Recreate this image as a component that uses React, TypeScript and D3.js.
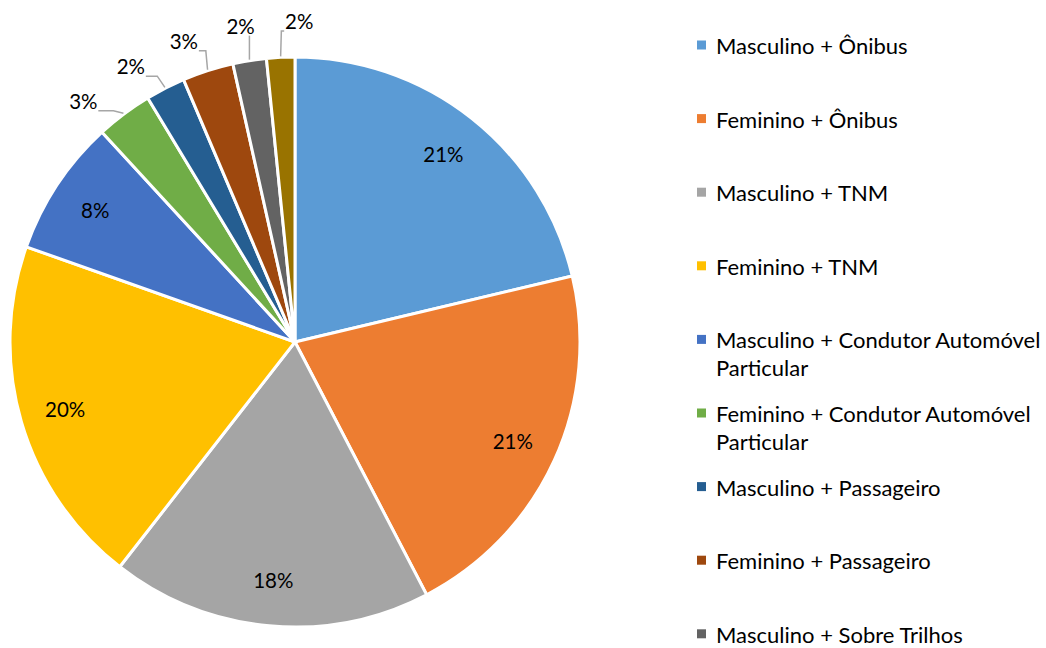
import React, { useEffect, useRef } from "react";
import * as d3 from "d3";

const categories = [
  "Masculino + Ônibus",
  "Feminino + Ônibus",
  "Masculino + TNM",
  "Feminino + TNM",
  "Masculino + Condutor Automóvel Particular",
  "Feminino + Condutor Automóvel Particular",
  "Masculino + Passageiro",
  "Feminino + Passageiro",
  "Masculino + Sobre Trilhos",
  "Feminino + Sobre Trilhos"
];
const values = [21.3, 21.1, 18.2, 19.9, 7.75, 3.2, 2.25, 2.9, 1.9, 1.6];
const colors = [
  "#5B9BD5",
  "#ED7D31",
  "#A5A5A5",
  "#FFC000",
  "#4472C4",
  "#70AD47",
  "#255E91",
  "#9E480E",
  "#636363",
  "#997300"
];

const size = {
  width: 1046,
  height: 648,
  cx: 295,
  cy: 342,
  radius: 285
};
const font = "Lato, 'Noto Sans', sans-serif";

type Slice = { label: string; value: number; color: string };

const wrap = (s: string, max: number) => {
  const lines: string[] = [];
  let cur = "";
  s.split(" ").forEach(w => {
    const next = cur ? cur + " " + w : w;
    if (next.length > max && cur) {
      lines.push(cur);
      cur = w;
    } else cur = next;
  });
  lines.push(cur);
  return lines;
};

const App = () => {
  const ref = useRef<SVGGElement>(null);

  useEffect(() => {
    if (!ref.current) return;
    ref.current.innerHTML = "";
    const data: Slice[] = categories.map((c, i) => ({
      label: c,
      value: values[i],
      color: colors[i]
    }));
    const total = d3.sum(values);
    const pct = d3.format(".0%");
    const R = size.radius;

    const pie = d3
      .pie<Slice>()
      .value(d => d.value)
      .sort(null);
    const arc = d3
      .arc<d3.PieArcDatum<Slice>>()
      .innerRadius(0)
      .outerRadius(R);
    const arcs = pie(data);

    const root = d3.select(ref.current);
    const pieG = root
      .append("g")
      .attr("transform", `translate(${size.cx},${size.cy})`);

    pieG
      .selectAll("path")
      .data(arcs)
      .enter()
      .append("path")
      .attr("d", arc)
      .attr("fill", d => d.data.color)
      .attr("stroke", "#fff")
      .attr("stroke-width", 3)
      .attr("stroke-linejoin", "round");

    const mid = (d: d3.PieArcDatum<Slice>) => (d.startAngle + d.endAngle) / 2;
    const polar = (a: number, r: number): [number, number] => [
      Math.sin(a) * r,
      -Math.cos(a) * r
    ];

    const inside = arcs.filter(d => d.value / total >= 0.05);
    const outside = arcs.filter(d => d.value / total < 0.05);

    pieG
      .selectAll("text.in")
      .data(inside)
      .enter()
      .append("text")
      .attr("class", "in")
      .attr("transform", d => `translate(${polar(mid(d), R * 0.84)})`)
      .attr("text-anchor", "middle")
      .attr("dominant-baseline", "central")
      .style("font-family", font)
      .style("font-size", "20.5px")
      .style("fill", "#000")
      .text(d => pct(d.value / total));

    // spread outside labels so they don't collide
    const angles = outside.map(mid);
    const minSep = (10.5 * Math.PI) / 180;
    for (let k = 0; k < 200; k++) {
      for (let i = 1; i < angles.length; i++) {
        const gap = angles[i] - angles[i - 1];
        if (gap < minSep) {
          const push = (minSep - gap) / 2;
          angles[i - 1] -= push;
          angles[i] += push;
        }
      }
    }

    const lr = R + 36;
    const bw = 30;
    const bh = 20;
    outside.forEach((d, i) => {
      const a = angles[i] - (1.5 * Math.PI) / 180;
      const [lx, ly] = polar(a, lr);
      const [ax, ay] = polar(mid(d), R + 1);
      const nx = Math.max(lx - bw / 2, Math.min(ax, lx + bw / 2));
      const ny = Math.max(ly - bh / 2, Math.min(ay, ly + bh / 2));
      const len = Math.hypot(nx - ax, ny - ay);
      if (len > 19.5) {
        const pts: [number, number][] =
          Math.abs(ny - ay) > Math.abs(nx - ax) * 1.5
            ? [[ax, ay], [ax + (nx - ax) * 0.2, ny], [nx, ny]]
            : [[ax, ay], [ax + (nx - ax) * 0.4, ny], [nx, ny]];
        pieG
          .append("path")
          .attr("d", d3.line()(pts))
          .attr("fill", "none")
          .attr("stroke", "#A6A6A6")
          .attr("stroke-width", 1.5);
      }
      pieG
        .append("text")
        .attr("x", lx)
        .attr("y", ly)
        .attr("text-anchor", "middle")
        .attr("dominant-baseline", "central")
        .style("font-family", font)
        .style("font-size", "20.5px")
        .style("fill", "#000")
        .text(pct(d.value / total));
    });

    // legend (rows that don't fit in the frame are dropped, as in the source)
    const legend = root.append("g").attr("transform", "translate(697,0)");
    const rowY = d3
      .scalePoint<number>()
      .domain(d3.range(categories.length))
      .range([45, 45 + 73.6 * (categories.length - 1)]);
    data.forEach((d, i) => {
      const y = rowY(i) ?? 0;
      if (y > size.height) return;
      const g = legend.append("g").attr("transform", `translate(0,${y})`);
      g.append("rect")
        .attr("x", 0)
        .attr("y", -4.5)
        .attr("width", 9)
        .attr("height", 9)
        .attr("fill", d.color);
      const t = g
        .append("text")
        .attr("x", 19)
        .attr("y", 0)
        .attr("dominant-baseline", "central")
        .style("font-family", font)
        .style("font-size", "22px")
        .style("fill", "#000");
      wrap(d.label, 30).forEach((line, j) => {
        t.append("tspan")
          .attr("x", 19)
          .attr("dy", j === 0 ? 0 : 28)
          .text(line);
      });
    });
  }, []);

  return (
    <>
      <style>{"body{margin:0}"}</style>
      <svg width={size.width} height={size.height} style={{ display: "block" }}>
        <rect width={size.width} height={size.height} fill="#fff" />
        <g ref={ref} />
      </svg>
    </>
  );
};

export default App;
